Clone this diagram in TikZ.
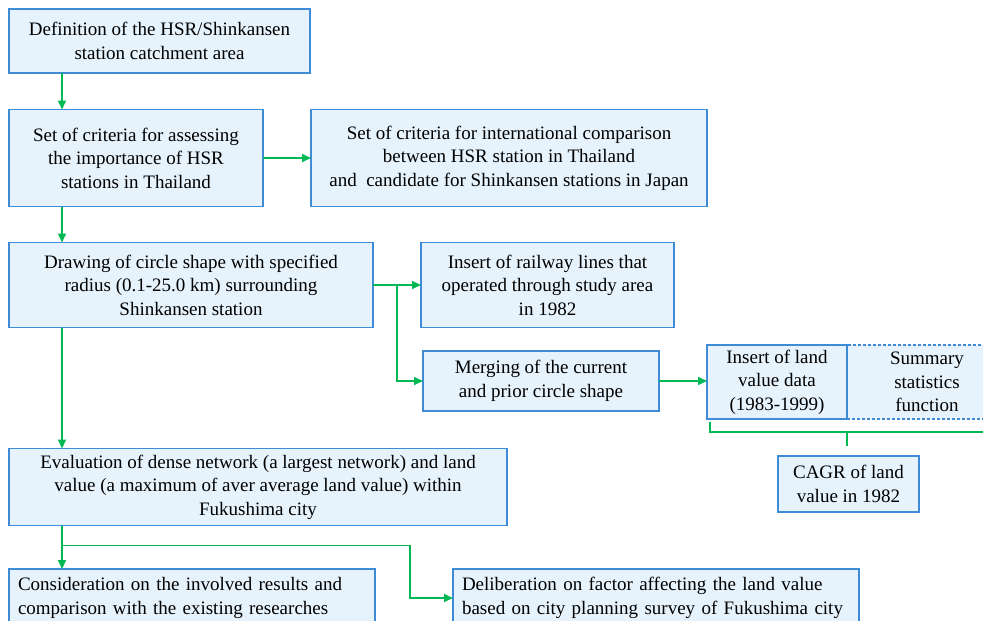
\documentclass[tikz,border=0pt]{standalone}
\usepackage{fontspec}
\setmainfont{Liberation Serif}
\usetikzlibrary{arrows.meta}
\tikzset{
  flowbox/.style={shape=rectangle,draw=flow_line,fill=flow_bg,line width=1.8pt,align=center,inner sep=2pt,outer sep=0pt,
    font=\fontsize{19}{23.5}\selectfont},
  flowdash/.style={flowbox,dashed,dash pattern=on 3pt off 2pt,line width=1.2pt},
  flowarr/.style={draw=flow_green,line width=1.8pt,-{Triangle[length=9pt,width=8pt]}},
  flowline/.style={draw=flow_green,line width=1.8pt},
}
\begin{document}
\begin{tikzpicture}[x=1pt,y=-1pt]
    \definecolor{flow_bg}{RGB}{230,242,252}
    \definecolor{flow_line}{RGB}{62,140,215}
    \definecolor{flow_green}{RGB}{0,185,85}
    \clip (0,0) rectangle (983,621);
    \useasboundingbox (0,0) rectangle (983,621);
    % left column
    \node[flowbox,minimum width=301pt,minimum height=64pt] (def) at (159.5,41) {Definition of the HSR/Shinkansen\\station catchment area};
    \node[flowbox,minimum width=254pt,minimum height=97pt] (crit) at (136,158) {Set of criteria for assessing\\the importance of HSR\\stations in Thailand};
    \node[flowbox,minimum width=396pt,minimum height=97pt] (intl) at (509,158) {Set of criteria for international comparison\\between HSR station in Thailand\\and \ candidate for Shinkansen stations in Japan};
    \node[flowbox,minimum width=364pt,minimum height=85pt] (circ) at (191,285) {Drawing of circle shape with specified\\radius (0.1-25.0 km) surrounding\\Shinkansen station};
    \node[flowbox,minimum width=253pt,minimum height=85pt] (rail) at (547.5,285) {Insert of railway lines that\\operated through study area\\in 1982};
    \node[flowbox,minimum width=236pt,minimum height=60pt] (merge) at (541,381) {Merging of the current\\and prior circle shape};
    % land value part
    \node[flowdash,minimum width=160pt,minimum height=74pt] (stat) at (927,382) {Summary\\statistics\\function};
    \node[flowbox,minimum width=140pt,minimum height=74pt] (land) at (777,382) {Insert of land\\value data\\(1983-1999)};
    \node[flowbox,minimum width=141pt,minimum height=56pt] (cagr) at (848.5,484) {CAGR of land\\value in 1982};
    \node[flowbox,minimum width=498pt,minimum height=77pt] (eval) at (258,487) {Evaluation of dense network (a largest network) and land\\value (a maximum of aver average land value) within\\Fukushima city};
    % bottom row (cut off)
    \node[flowbox,align=left,anchor=north west,text width=348pt,minimum width=366pt,minimum height=58pt] (cons) at (9,569) {Consideration on the involved results and\\comparison with the existing researches};
    \node[flowbox,align=left,anchor=north west,text width=388pt,minimum width=406pt,minimum height=58pt] (delib) at (453,569) {Deliberation on factor affecting the land value\\based on city planning survey of Fukushima city};
    % connectors
    \draw[flowarr] ([xshift=53pt]def.south west) -- ([xshift=53pt]crit.north west);
    \draw[flowarr] (crit.east) -- (intl.west);
    \draw[flowarr] ([xshift=53pt]crit.south west) -- ([xshift=53pt]circ.north west);
    \draw[flowarr] (circ.east) -- (rail.west);
    \coordinate (split) at ([xshift=24pt]circ.east);
    \draw[flowarr] (split) |- (merge.west);
    \draw[flowarr] (merge.east) -- (merge.east -| land.west);
    \draw[flowarr] ([xshift=53pt]circ.south west) -- ([xshift=53pt]eval.north west);
    \draw[flowarr] ([xshift=53pt]eval.south west) -- ([xshift=53pt]cons.north west);
    \coordinate (fork) at ([xshift=53pt,yshift=-20pt]eval.south west);
    \draw[flowarr] (fork) -| ([xshift=-43pt,yshift=-29pt]delib.north west) -- ([yshift=-29pt]delib.north west);
    % bracket under land value boxes
    \coordinate (brace_l) at ([xshift=3pt,yshift=-3pt]land.south west);
    \coordinate (brace_m) at ([yshift=-13pt]land.south east);
    \draw[flowline] (brace_l) -- ++(0,10) -- ([xshift=160pt]brace_m);
    \draw[flowline] (brace_m) -- ++(0,14);
\end{tikzpicture}
\end{document}
